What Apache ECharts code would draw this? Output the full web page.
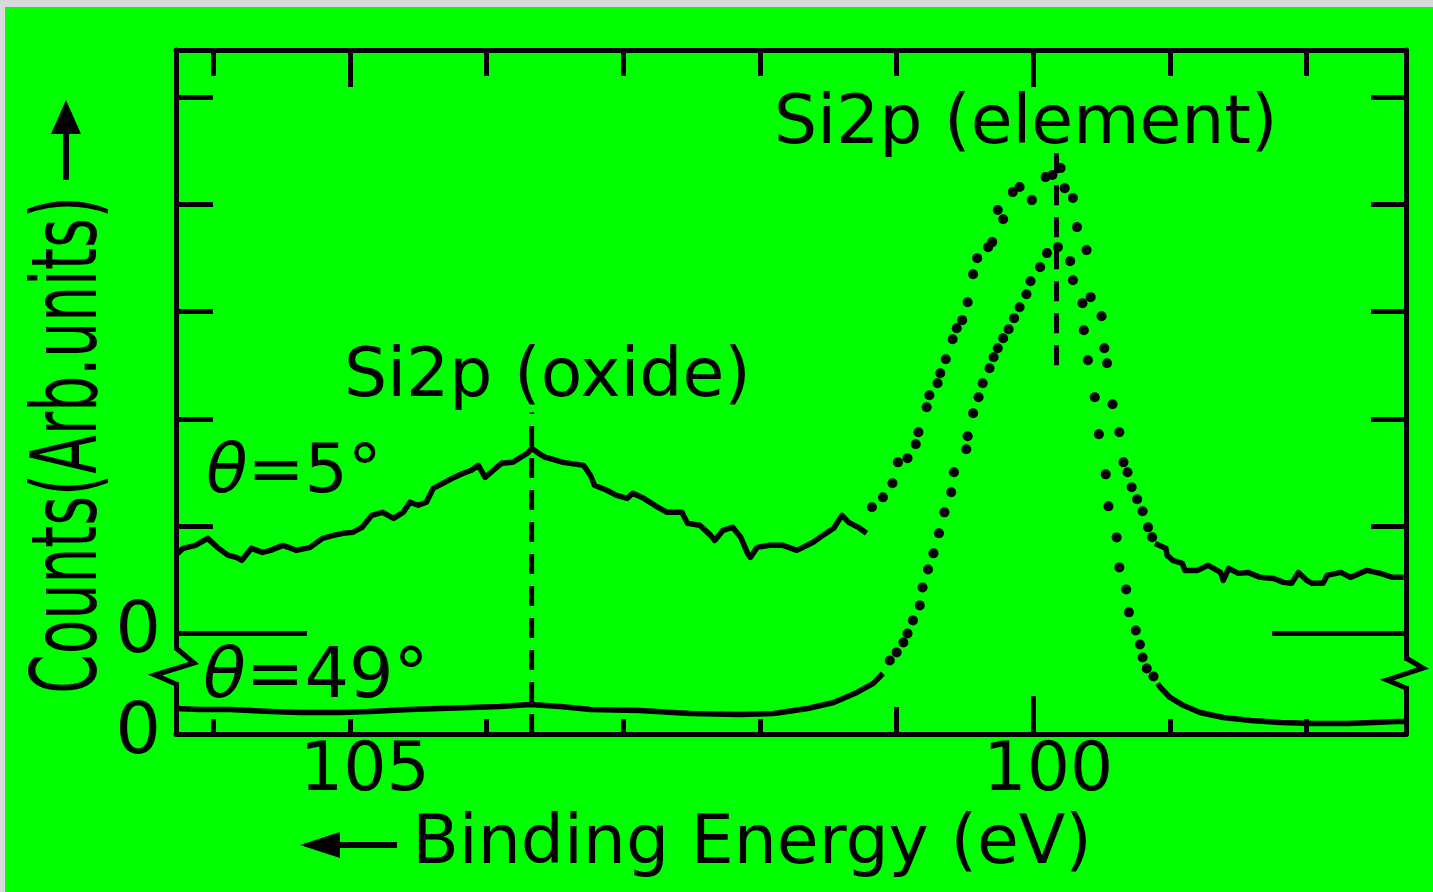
<!DOCTYPE html>
<html><head><meta charset="utf-8">
<script src="https://cdn.jsdelivr.net/npm/echarts@6/dist/echarts.min.js"></script>
<style>
html,body{margin:0;padding:0;width:1433px;height:892px;overflow:hidden;background:#d9d9d9;}
#paper{position:absolute;left:5px;top:7px;right:0;bottom:0;background:#00ff00;}
#chart{position:absolute;left:0;top:0;width:1433px;height:892px;}
</style></head><body><div id="paper"></div><div id="chart"></div>
<script>
// ---------- data (binding energy in eV, counts in arbitrary units) ----------
const energyLabels = [100, 105];
const energyTicksMinor = [98, 99, 102, 103, 104, 105, 106];
const energyTicksTop = [98, 99, 101, 102, 103, 104, 106];
const energyTicksTopMajor = [100, 105];
const countTicks = [1, 2, 3, 4, 5];
const zeroLevel = [0];

// theta = 5 deg spectrum (solid trace, dotted fast-sweep part, solid tail)
const theta5SolidA = [[106.26,0.743],[106.22,0.790],[106.13,0.818],[106.04,0.883],[105.97,0.799],[105.89,0.724],[105.83,0.706],[105.79,0.678],[105.72,0.790],[105.64,0.752],[105.58,0.771],[105.49,0.818],[105.39,0.771],[105.29,0.799],[105.20,0.883],[105.12,0.911],[105.05,0.930],[104.98,0.939],[104.91,0.986],[104.84,1.098],[104.76,1.126],[104.68,1.070],[104.61,1.126],[104.56,1.220],[104.50,1.192],[104.44,1.220],[104.39,1.350],[104.32,1.397],[104.25,1.444],[104.17,1.491],[104.11,1.519],[104.06,1.565],[104.01,1.453],[103.95,1.519],[103.89,1.584],[103.81,1.593],[103.75,1.640],[103.70,1.678],[103.67,1.724],[103.63,1.687],[103.57,1.640],[103.54,1.631],[103.44,1.593],[103.29,1.565],[103.24,1.472],[103.21,1.379],[103.12,1.332],[103.05,1.285],[102.97,1.257],[102.93,1.304],[102.85,1.257],[102.77,1.192],[102.68,1.126],[102.57,1.126],[102.53,1.023],[102.44,1.005],[102.36,0.911],[102.33,0.864],[102.27,0.958],[102.20,0.986],[102.14,0.893],[102.09,0.743],[102.07,0.706],[102.02,0.799],[101.93,0.818],[101.83,0.818],[101.73,0.771],[101.61,0.846],[101.54,0.911],[101.46,0.977],[101.40,1.098],[101.35,1.033],[101.28,0.986],[101.22,0.930]];
const theta5Dots = [[101.18,1.173],[101.10,1.266],[101.03,1.397],[100.99,1.593],[100.92,1.631],[100.86,1.762],[100.84,1.874],[100.78,2.107],[100.76,2.220],[100.70,2.332],[100.68,2.425],[100.64,2.556],[100.59,2.743],[100.56,2.846],[100.52,2.921],[100.48,3.089],[100.44,3.350],[100.41,3.500],[100.33,3.603],[100.30,3.650],[100.26,3.949],[100.22,3.864],[100.15,4.117],[100.10,4.164],[100.01,4.042],[99.91,4.257],[99.86,4.276],[99.80,4.341],[99.77,4.154],[99.71,4.061],[99.68,3.790],[99.61,3.575],[99.58,3.136],[99.50,2.958],[99.48,2.659],[99.46,2.519],[99.42,2.136],[99.37,1.874],[99.34,1.593],[99.31,1.500],[99.28,1.360],[99.24,1.248],[99.20,1.136],[99.16,0.986],[99.13,0.893]];
const theta5SolidB = [[99.11,0.836],[99.03,0.790],[99.02,0.724],[98.98,0.678],[98.91,0.650],[98.89,0.584],[98.80,0.584],[98.72,0.631],[98.63,0.565],[98.61,0.491],[98.57,0.603],[98.50,0.556],[98.43,0.565],[98.34,0.519],[98.24,0.509],[98.17,0.472],[98.11,0.463],[98.06,0.565],[98.00,0.491],[97.96,0.463],[97.88,0.463],[97.85,0.537],[97.75,0.565],[97.68,0.519],[97.56,0.584],[97.46,0.556],[97.37,0.519],[97.29,0.519]];

// theta = 49 deg spectrum
const theta49SolidA = [[106.27,0.238],[106.10,0.229],[105.88,0.229],[105.58,0.210],[105.36,0.201],[105.07,0.201],[104.85,0.210],[104.56,0.229],[104.34,0.238],[104.12,0.248],[103.90,0.257],[103.68,0.276],[103.46,0.257],[103.24,0.229],[102.88,0.220],[102.51,0.192],[102.14,0.182],[101.90,0.192],[101.65,0.238],[101.46,0.294],[101.29,0.388],[101.17,0.472],[101.10,0.565]];
const theta49Dots = [[101.05,0.687],[101.00,0.762],[100.95,0.855],[100.92,0.939],[100.88,1.061],[100.83,1.201],[100.81,1.369],[100.77,1.537],[100.73,1.687],[100.69,1.874],[100.65,2.070],[100.60,2.257],[100.58,2.444],[100.49,2.659],[100.48,2.780],[100.44,2.995],[100.40,3.145],[100.37,3.276],[100.32,3.416],[100.29,3.519],[100.26,3.603],[100.22,3.696],[100.18,3.780],[100.14,3.883],[100.10,3.986],[100.05,4.107],[100.02,4.229],[99.95,4.360],[99.90,4.491],[99.82,4.547],[99.73,4.416],[99.71,4.238],[99.64,4.023],[99.63,3.771],[99.60,3.491],[99.55,3.145],[99.52,2.799],[99.47,2.425],[99.45,2.126],[99.39,1.836],[99.37,1.556],[99.32,1.350],[99.30,1.136],[99.25,0.967],[99.22,0.836],[99.20,0.715],[99.17,0.612],[99.12,0.537]];
const theta49SolidB = [[99.09,0.472],[99.07,0.435],[99.00,0.341],[98.90,0.266],[98.78,0.201],[98.61,0.154],[98.41,0.126],[98.19,0.107],[97.95,0.098],[97.70,0.098],[97.51,0.107],[97.34,0.117],[97.28,0.117]];

// peak positions and the span of their dashed marker lines (theta=5 count units)
const oxidePeak = 103.67;
const elementPeak = 99.83;
const oxideMarkerSpan = [-0.944, 2.06];
const elementMarkerSpan = [2.50, 4.49];

// ---------- chart ----------
const FONT = 'DejaVu Sans';
const BLACK = '#000';
const GREEN = '#00ff00';
const X_MIN = 97.273, X_MAX = 106.272;
const AXIS_W = 5;

function xAx(pos, ticks, len, extra) {
  return Object.assign({
    type: 'value', position: pos, min: X_MIN, max: X_MAX, inverse: true,
    splitLine: { show: false },
    axisLine: { show: false, onZero: false },
    axisTick: { show: true, inside: true, length: len, customValues: ticks,
      lineStyle: { color: BLACK, width: AXIS_W } },
    axisLabel: { show: false }
  }, extra || {});
}
function yAx(pos, min, max, ticks, len, extra) {
  return Object.assign({
    type: 'value', position: pos, min: min, max: max,
    splitLine: { show: false },
    axisLine: { show: false, onZero: false },
    axisTick: ticks ? { show: true, inside: true, length: len, customValues: ticks,
      lineStyle: { color: BLACK, width: AXIS_W } } : { show: false },
    axisLabel: { show: false }
  }, extra || {});
}
const lineAxis = { show: true, onZero: false, lineStyle: { color: BLACK, width: AXIS_W } };
const zeroLabel = { show: true, customValues: zeroLevel, fontSize: 72, fontFamily: FONT,
  color: BLACK, margin: 15 };

const Y5_MIN = -0.944, Y5_MAX = 5.444, Y49_MIN = 0, Y49_MAX = 6.388;
const TRACE_W = 5.5;
const dotStyle = { color: BLACK, opacity: 1 };

const option = {
  animation: false,
  backgroundColor: 'transparent',
  textStyle: { fontFamily: FONT },
  grid: { left: 176, right: 27, top: 50, bottom: 158, containLabel: false, outerBoundsMode: 'none' },
  xAxis: [
    xAx('bottom', energyTicksMinor, 15, {
      axisLine: lineAxis,
      axisLabel: { show: true, customValues: energyLabels, fontSize: 68, fontFamily: FONT,
        color: BLACK, margin: 4, padding: [0, 0, 0, 30] },
      name: 'Binding Energy (eV)', nameLocation: 'middle', nameGap: 76,
      nameTextStyle: { fontSize: 68, fontFamily: FONT, color: BLACK, padding: [0, 78, 0, 0] }
    }),
    xAx('bottom', [101], 27),
    xAx('bottom', [100], 38),
    xAx('top', energyTicksTop, 26, { axisLine: lineAxis }),
    xAx('top', energyTicksTopMajor, 37)
  ],
  yAxis: [
    yAx('left', Y5_MIN, Y5_MAX, countTicks, 37, { axisLine: lineAxis, axisLabel: zeroLabel }),
    yAx('left', Y5_MIN, Y5_MAX, zeroLevel, 131),
    yAx('right', Y5_MIN, Y5_MAX, countTicks, 35, { axisLine: lineAxis }),
    yAx('right', Y5_MIN, Y5_MAX, zeroLevel, 134),
    yAx('left', Y49_MIN, Y49_MAX, null, 0, { axisLabel: zeroLabel })
  ],
  series: [
    { name: 'θ=5° trace', type: 'line', xAxisIndex: 0, yAxisIndex: 0, data: theta5SolidA,
      showSymbol: false, lineStyle: { color: BLACK, width: TRACE_W, join: 'round' }, z: 5 },
    { name: 'θ=5° dots', type: 'scatter', xAxisIndex: 0, yAxisIndex: 0, data: theta5Dots,
      symbolSize: 10, itemStyle: dotStyle, z: 5 },
    { name: 'θ=5° tail', type: 'line', xAxisIndex: 0, yAxisIndex: 0, data: theta5SolidB,
      showSymbol: false, lineStyle: { color: BLACK, width: TRACE_W, join: 'round' }, z: 5 },
    { name: 'θ=49° trace', type: 'line', xAxisIndex: 0, yAxisIndex: 4, data: theta49SolidA,
      showSymbol: false, lineStyle: { color: BLACK, width: TRACE_W, join: 'round' }, z: 5 },
    { name: 'θ=49° dots', type: 'scatter', xAxisIndex: 0, yAxisIndex: 4, data: theta49Dots,
      symbolSize: 10, itemStyle: dotStyle, z: 5 },
    { name: 'θ=49° tail', type: 'line', xAxisIndex: 0, yAxisIndex: 4, data: theta49SolidB,
      showSymbol: false, lineStyle: { color: BLACK, width: TRACE_W, join: 'round' }, z: 5 },
    { name: 'oxide peak', type: 'line', xAxisIndex: 0, yAxisIndex: 0,
      data: oxideMarkerSpan.map(v => [oxidePeak, v]), showSymbol: false,
      lineStyle: { color: BLACK, width: 5, type: [20, 12] }, z: 4 },
    { name: 'element peak', type: 'line', xAxisIndex: 0, yAxisIndex: 0,
      data: elementMarkerSpan.map(v => [elementPeak, v]), showSymbol: false,
      lineStyle: { color: BLACK, width: 5, type: [20, 12] }, z: 4 }
  ],
  graphic: [
    // y axis title with arrow
    { type: 'text', x: 73, y: 445, rotation: Math.PI / 2, scaleX: 0.63, z: 100,
      style: { text: 'Counts(Arb.units)', fontSize: 90, fontFamily: FONT, fill: BLACK,
        textAlign: 'center', textVerticalAlign: 'middle' } },
    { type: 'polygon', z: 100, shape: { points: [[66, 100], [51, 134], [81, 134]] }, style: { fill: BLACK } },
    { type: 'line', z: 100, shape: { x1: 66, y1: 130, x2: 66, y2: 180 }, style: { stroke: BLACK, lineWidth: 6 } },
    // x axis arrow
    { type: 'polygon', z: 100, shape: { points: [[300, 845], [340, 832], [340, 858]] }, style: { fill: BLACK } },
    { type: 'line', z: 100, shape: { x1: 336, y1: 845, x2: 397, y2: 845 }, style: { stroke: BLACK, lineWidth: 6 } },
    // peak annotations
    { type: 'text', x: 774, y: 125, z: 100,
      style: { text: 'Si2p (element)', fontSize: 68, fontFamily: FONT, fill: BLACK,
        textAlign: 'left', textVerticalAlign: 'middle' } },
    { type: 'text', x: 344, y: 378, z: 100,
      style: { text: 'Si2p (oxide)', fontSize: 68, fontFamily: FONT, fill: BLACK,
        textAlign: 'left', textVerticalAlign: 'middle' } },
    // spectrum labels
    { type: 'text', x: 206, y: 474, z: 100,
      style: { text: '{i|θ}=5°', fontSize: 68, fontFamily: FONT, fill: BLACK,
        textAlign: 'left', textVerticalAlign: 'middle',
        rich: { i: { fontSize: 68, fontFamily: FONT, fontStyle: 'italic', fill: BLACK } } } },
    { type: 'text', x: 203, y: 679, z: 100,
      style: { text: '{i|θ}=49°', fontSize: 70, fontFamily: FONT, fill: BLACK,
        textAlign: 'left', textVerticalAlign: 'middle',
        rich: { i: { fontSize: 70, fontFamily: FONT, fontStyle: 'italic', fill: BLACK } } } },
    // axis breaks
    { type: 'rect', z: 100, shape: { x: 171, y: 650, width: 10, height: 32 }, style: { fill: GREEN } },
    { type: 'polyline', z: 101, shape: { points: [[176, 648], [194, 663], [155, 675], [176, 684]] },
      style: { stroke: BLACK, lineWidth: 5, fill: null } },
    { type: 'rect', z: 100, shape: { x: 1400, y: 661, width: 11, height: 25 }, style: { fill: GREEN } },
    { type: 'polyline', z: 101, shape: { points: [[1406, 658], [1423, 668], [1387, 680], [1406, 688]] },
      style: { stroke: BLACK, lineWidth: 5, fill: null } }
  ]
};

const chart = echarts.init(document.getElementById('chart'), null, { renderer: 'canvas' });
chart.setOption(option);
</script></body></html>
